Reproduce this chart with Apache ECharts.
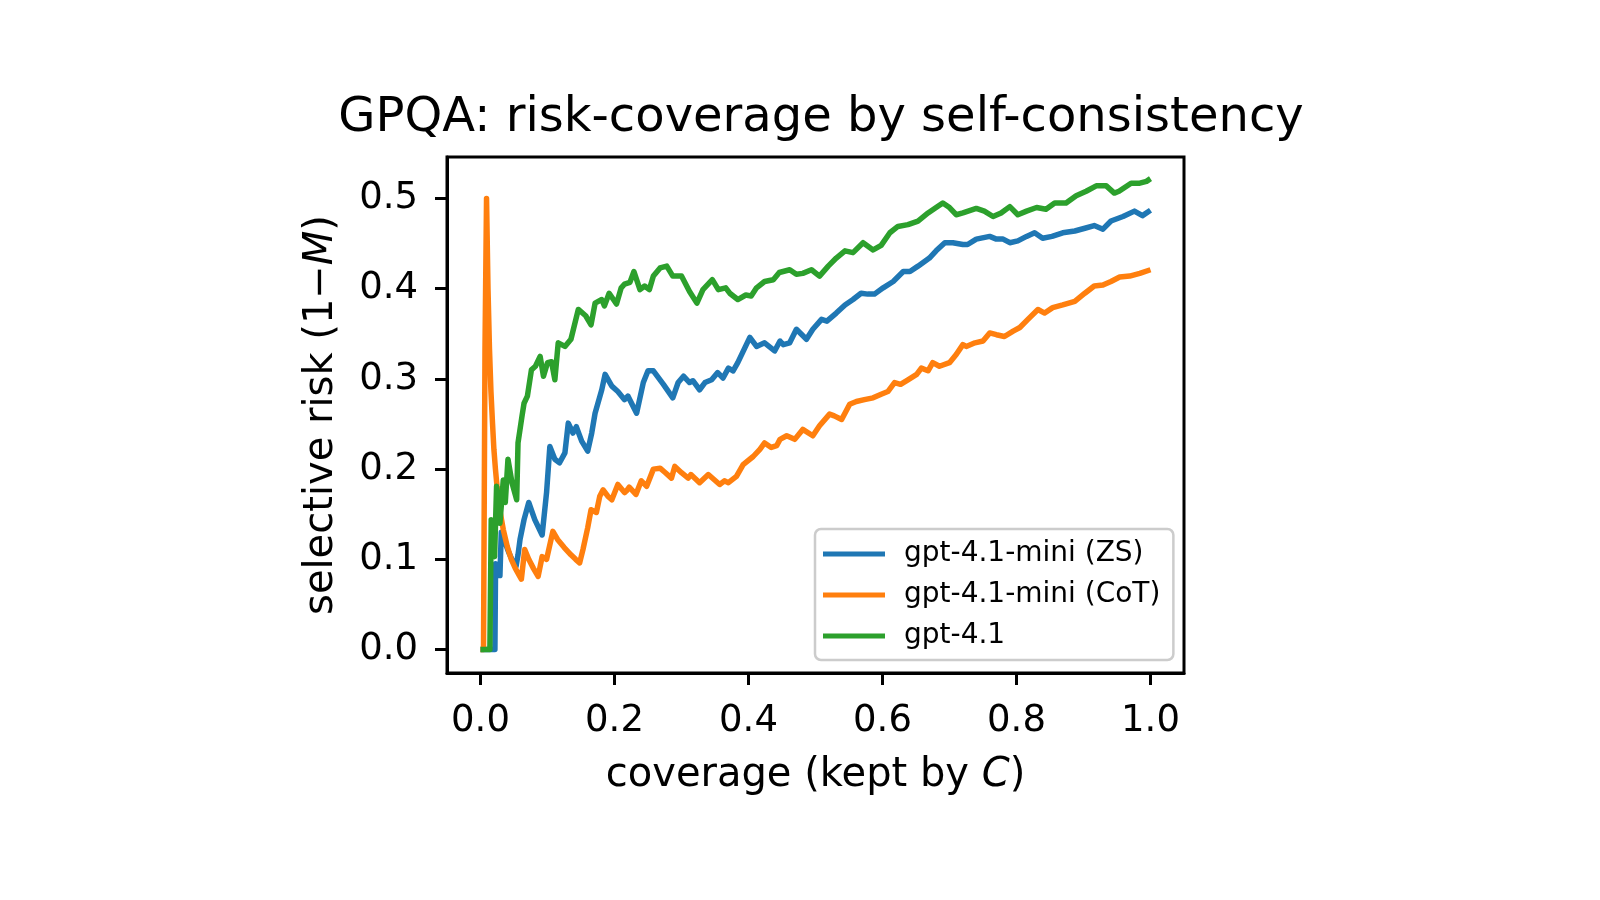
<!DOCTYPE html>
<html>
<head>
<meta charset="utf-8">
<script src="https://cdn.jsdelivr.net/npm/echarts@6/dist/echarts.min.js"></script>
<style>
  html, body { margin: 0; padding: 0; background: #fff; }
  #chart1 { width: 1600px; height: 900px; }
</style>
</head>
<body>
<div id="chart1"></div>
<script>
// [coverage, selective risk]
var zsPoints = [
  [0, 0], [0.01, 0], [0.0215, 0], [0.0225, 0.095], [0.026, 0.082], [0.029, 0.082],
  [0.031, 0.13], [0.036, 0.12], [0.042, 0.108], [0.048, 0.098], [0.053, 0.092],
  [0.056, 0.105], [0.059, 0.122], [0.065, 0.144], [0.072, 0.163], [0.081, 0.144],
  [0.092, 0.127], [0.0986, 0.174], [0.1035, 0.225], [0.111, 0.211], [0.118, 0.207],
  [0.126, 0.218], [0.131, 0.251], [0.138, 0.24], [0.143, 0.247], [0.151, 0.231],
  [0.160, 0.22], [0.166, 0.24], [0.171, 0.262], [0.181, 0.288], [0.186, 0.305],
  [0.196, 0.292], [0.205, 0.286], [0.215, 0.277], [0.220, 0.281], [0.233, 0.262],
  [0.243, 0.296], [0.250, 0.309], [0.258, 0.309], [0.273, 0.294], [0.287, 0.279],
  [0.295, 0.296], [0.303, 0.303], [0.312, 0.296], [0.317, 0.298], [0.327, 0.288],
  [0.335, 0.296], [0.345, 0.299], [0.354, 0.307], [0.362, 0.301], [0.370, 0.312],
  [0.377, 0.309], [0.384, 0.318], [0.402, 0.346], [0.412, 0.336], [0.424, 0.34],
  [0.439, 0.331], [0.447, 0.342], [0.452, 0.338], [0.4615, 0.34], [0.4715, 0.355],
  [0.4865, 0.344], [0.496, 0.355], [0.509, 0.366], [0.517, 0.364], [0.531, 0.373],
  [0.544, 0.382], [0.556, 0.388], [0.568, 0.395], [0.578, 0.394], [0.588, 0.394],
  [0.601, 0.401], [0.616, 0.408], [0.631, 0.419], [0.641, 0.419], [0.653, 0.425],
  [0.67, 0.434], [0.68, 0.442], [0.693, 0.451], [0.705, 0.451], [0.72, 0.449],
  [0.727, 0.449], [0.74, 0.455], [0.76, 0.458], [0.77, 0.455], [0.78, 0.455],
  [0.79, 0.451], [0.802, 0.453], [0.815, 0.458], [0.827, 0.462], [0.839, 0.456],
  [0.853, 0.458], [0.869, 0.462], [0.887, 0.464], [0.902, 0.467], [0.916, 0.47],
  [0.929, 0.466], [0.941, 0.475], [0.959, 0.48], [0.976, 0.486], [0.988, 0.481],
  [1.0, 0.487]
];

var cotPoints = [
  [0, 0], [0.0022, 0], [0.0045, 0], [0.0067, 0.333], [0.009, 0.5], [0.0112, 0.4],
  [0.0134, 0.333], [0.0156, 0.286], [0.018, 0.25], [0.020, 0.222], [0.0223, 0.2],
  [0.0245, 0.182], [0.029, 0.154], [0.034, 0.133], [0.040, 0.114], [0.046, 0.1],
  [0.052, 0.09], [0.058, 0.082], [0.061, 0.078], [0.066, 0.111], [0.072, 0.1],
  [0.079, 0.09], [0.086, 0.081], [0.092, 0.103], [0.0986, 0.10], [0.108, 0.131],
  [0.115, 0.122], [0.125, 0.113], [0.135, 0.105], [0.142, 0.10], [0.148, 0.096],
  [0.153, 0.111], [0.160, 0.135], [0.165, 0.155], [0.173, 0.152], [0.178, 0.17],
  [0.183, 0.177], [0.19, 0.17], [0.196, 0.166], [0.205, 0.183], [0.215, 0.174],
  [0.218, 0.176], [0.222, 0.18], [0.232, 0.172], [0.24, 0.187], [0.248, 0.181],
  [0.258, 0.20], [0.268, 0.201], [0.276, 0.196], [0.285, 0.19], [0.29, 0.203],
  [0.30, 0.196], [0.31, 0.19], [0.314, 0.194], [0.327, 0.185], [0.34, 0.194],
  [0.357, 0.183], [0.364, 0.187], [0.370, 0.185], [0.382, 0.192], [0.392, 0.205],
  [0.407, 0.214], [0.417, 0.222], [0.424, 0.229], [0.434, 0.224], [0.442, 0.226],
  [0.447, 0.233], [0.457, 0.237], [0.469, 0.233], [0.481, 0.244], [0.496, 0.237],
  [0.506, 0.248], [0.521, 0.261], [0.528, 0.259], [0.539, 0.255], [0.551, 0.272],
  [0.561, 0.275], [0.573, 0.277], [0.586, 0.279], [0.598, 0.283], [0.608, 0.286],
  [0.618, 0.296], [0.627, 0.294], [0.638, 0.299], [0.651, 0.305], [0.658, 0.312],
  [0.668, 0.309], [0.675, 0.318], [0.685, 0.314], [0.70, 0.318], [0.71, 0.327],
  [0.72, 0.338], [0.725, 0.336], [0.738, 0.34], [0.75, 0.342], [0.76, 0.351],
  [0.77, 0.349], [0.782, 0.347], [0.795, 0.353], [0.805, 0.357], [0.817, 0.366],
  [0.832, 0.377], [0.842, 0.373], [0.854, 0.379], [0.869, 0.382], [0.887, 0.386],
  [0.902, 0.395], [0.916, 0.403], [0.929, 0.404], [0.941, 0.408], [0.954, 0.413],
  [0.969, 0.414], [0.984, 0.417], [1.0, 0.421]
];

var gpt41Points = [
  [0, 0], [0.007, 0], [0.014, 0], [0.016, 0.144], [0.019, 0.115], [0.021, 0.103],
  [0.024, 0.181], [0.029, 0.14], [0.034, 0.188], [0.037, 0.163], [0.041, 0.211],
  [0.047, 0.185], [0.054, 0.166], [0.056, 0.229], [0.062, 0.259], [0.065, 0.273],
  [0.070, 0.281], [0.076, 0.31], [0.082, 0.314], [0.089, 0.325], [0.094, 0.303],
  [0.100, 0.318], [0.106, 0.319], [0.111, 0.299], [0.116, 0.34], [0.126, 0.336],
  [0.135, 0.344], [0.146, 0.377], [0.157, 0.37], [0.165, 0.36], [0.171, 0.384],
  [0.181, 0.388], [0.185, 0.381], [0.192, 0.395], [0.203, 0.383], [0.21, 0.401],
  [0.215, 0.405], [0.223, 0.407], [0.229, 0.419], [0.238, 0.399], [0.245, 0.403],
  [0.252, 0.399], [0.258, 0.414], [0.268, 0.423], [0.278, 0.425], [0.287, 0.414],
  [0.30, 0.414], [0.312, 0.397], [0.323, 0.384], [0.332, 0.399], [0.346, 0.41],
  [0.355, 0.399], [0.366, 0.401], [0.372, 0.395], [0.384, 0.388], [0.396, 0.393],
  [0.404, 0.392], [0.412, 0.401], [0.424, 0.408], [0.437, 0.41], [0.446, 0.418],
  [0.4615, 0.421], [0.4715, 0.416], [0.481, 0.417], [0.494, 0.421], [0.506, 0.414],
  [0.519, 0.425], [0.531, 0.434], [0.544, 0.442], [0.556, 0.44], [0.571, 0.451],
  [0.586, 0.443], [0.598, 0.448], [0.611, 0.462], [0.623, 0.469], [0.638, 0.471],
  [0.653, 0.475], [0.668, 0.484], [0.68, 0.49], [0.69, 0.495], [0.70, 0.49],
  [0.71, 0.482], [0.72, 0.484], [0.74, 0.489], [0.752, 0.486], [0.765, 0.48],
  [0.777, 0.484], [0.79, 0.491], [0.802, 0.482], [0.815, 0.486], [0.83, 0.49],
  [0.844, 0.488], [0.857, 0.495], [0.874, 0.495], [0.889, 0.503], [0.904, 0.508],
  [0.919, 0.514], [0.934, 0.514], [0.946, 0.506], [0.953, 0.508], [0.971, 0.517],
  [0.984, 0.517], [0.994, 0.519], [1.0, 0.522]
];

var seriesNames = ['gpt-4.1-mini (ZS)', 'gpt-4.1-mini (CoT)', 'gpt-4.1'];
var seriesColors = ['#1f77b4', '#ff7f0e', '#2ca02c'];
var xTicks = [0, 0.2, 0.4, 0.6, 0.8, 1.0];
var yTicks = [0, 0.1, 0.2, 0.3, 0.4, 0.5];

var font = 'DejaVu Sans';

function riskChart() {
  var chartDom = document.getElementById('chart1');
  var myChart = echarts.init(chartDom);
  var option;

  var allData = [zsPoints, cotPoints, gpt41Points];

  option = {
    animation: false,
    backgroundColor: '#fff',
    title: {
      text: 'GPQA: risk-coverage by self-consistency',
      left: 816,
      textAlign: 'center',
      top: 90,
      textStyle: {
        fontFamily: font,
        fontSize: 48,
        fontWeight: 'normal',
        color: '#000'
      }
    },
    grid: {
      left: 447,
      top: 157,
      width: 737,
      height: 516,
      show: true,
      borderColor: '#000',
      borderWidth: 3,
      backgroundColor: 'transparent'
    },
    legend: {
      orient: 'vertical',
      left: 815,
      top: 529,
      padding: [11, 13, 10, 8],
      itemWidth: 62,
      itemHeight: 5,
      itemGap: 13,
      icon: 'rect',
      backgroundColor: 'rgba(255,255,255,0.8)',
      borderColor: '#cccccc',
      borderWidth: 2.5,
      borderRadius: 6,
      textStyle: {
        fontFamily: font,
        fontSize: 28,
        color: '#000',
        padding: [0, 0, 0, 14]
      },
      data: seriesNames
    },
    xAxis: {
      type: 'value',
      min: -0.05,
      max: 1.05,
      name: 'coverage (kept by {i|C})',
      nameLocation: 'middle',
      nameGap: 83,
      nameTextStyle: {
        fontFamily: font,
        fontSize: 40,
        color: '#000',
        rich: { i: { fontFamily: font, fontSize: 40, fontStyle: 'italic', color: '#000' } }
      },
      axisLine: { show: true, onZero: false, lineStyle: { color: '#000', width: 3 } },
      splitLine: { show: false },
      axisTick: {
        show: true,
        inside: false,
        length: 12,
        customValues: xTicks,
        lineStyle: { color: '#000', width: 3 }
      },
      axisLabel: {
        customValues: xTicks,
        margin: 30,
        fontFamily: font,
        fontSize: 37,
        color: '#000',
        formatter: function (v) { return v.toFixed(1); }
      }
    },
    yAxis: {
      type: 'value',
      min: -0.026,
      max: 0.546,
      name: 'selective risk (1\u2212{i|M})',
      nameLocation: 'middle',
      nameRotate: 90,
      nameGap: 105,
      nameTextStyle: {
        fontFamily: font,
        fontSize: 40,
        color: '#000',
        rich: { i: { fontFamily: font, fontSize: 40, fontStyle: 'italic', color: '#000' } }
      },
      axisLine: { show: true, onZero: false, lineStyle: { color: '#000', width: 3 } },
      splitLine: { show: false },
      axisTick: {
        show: true,
        inside: false,
        length: 12,
        customValues: yTicks,
        lineStyle: { color: '#000', width: 3 }
      },
      axisLabel: {
        customValues: yTicks,
        margin: 29,
        fontFamily: font,
        fontSize: 37,
        color: '#000',
        formatter: function (v) { return v.toFixed(1); }
      }
    },
    series: seriesNames.map(function (name, i) {
      return {
        name: name,
        type: 'line',
        data: allData[i],
        showSymbol: false,
        color: seriesColors[i],
        lineStyle: { width: 5.5, color: seriesColors[i], join: 'round' },
        z: 2 + i
      };
    })
  };

  option && myChart.setOption(option);
}

riskChart();
</script>
</body>
</html>
